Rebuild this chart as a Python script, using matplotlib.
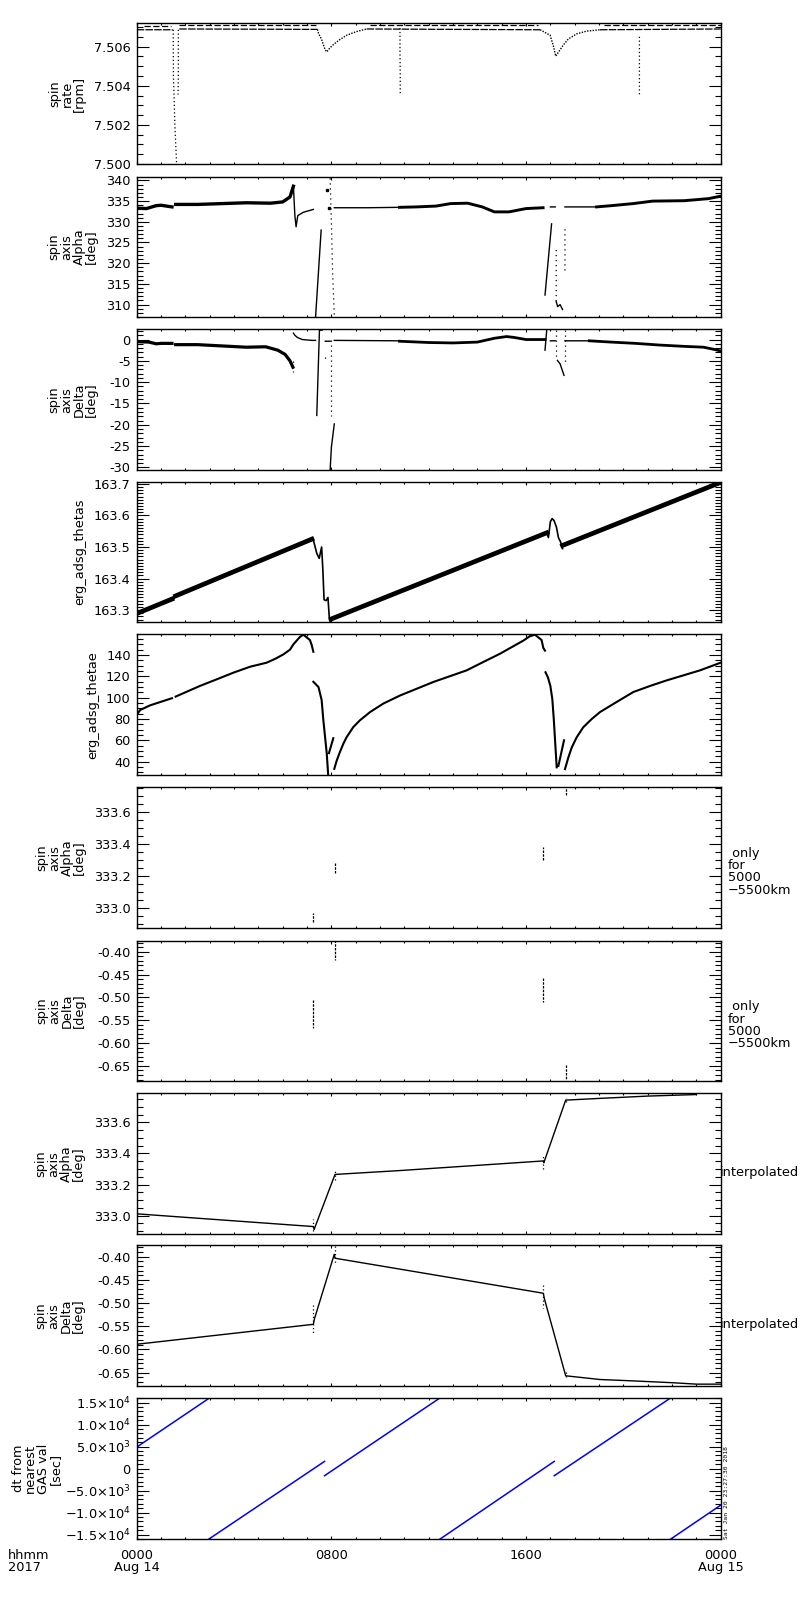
import numpy as np
import matplotlib
matplotlib.use('Agg')
import matplotlib.pyplot as plt
from matplotlib.ticker import MultipleLocator, FormatStrFormatter, FixedLocator, FixedFormatter

nan = np.nan
plt.rcParams['font.family'] = ['DejaVu Sans']
FS = 9.3

# ---------------- data (hours of Aug 14 2017) ----------------
# spin rate [rpm]
rate_t = [0.0, 1.48, nan, 1.75, 7.43, nan, 9.45, 16.58, nan, 19.04, 24.0]
rate_v = [7.50686, 7.50686, nan, 7.50690, 7.50688, nan, 7.50690, 7.50686, nan, 7.50686, 7.50690]
rate_dip_t = [7.43, 7.47, 7.60, 7.74, 7.81, 7.94, 8.08, 8.35, 8.63, 9.04, 9.45, nan,
              16.58, 16.99, 17.12, 17.22, 17.33, 17.53, 17.74, 18.08, 18.49, 19.04]
rate_dip_v = [7.50688, 7.50668, 7.50636, 7.50585, 7.50573, 7.50593, 7.50610, 7.50636, 7.50658, 7.50677,
              7.50690, nan,
              7.50686, 7.50658, 7.50605, 7.50551, 7.50571, 7.50608, 7.50639, 7.50665, 7.50679, 7.50686]
rate_hi_t = [0.3, 1.4, nan, 1.75, 7.35, nan, 9.6, 16.5, nan, 19.2, 24.0]
rate_hi_v = [7.50704, 7.50704, nan, 7.50708, 7.50708, nan, 7.50708, 7.50708, nan, 7.50708, 7.50708]
rate_spike_t = [1.50, 1.51, 1.57, 1.64, nan, 1.71, 1.71, 1.70, nan, 10.82, 10.82, 10.83, 10.83, nan,
                20.66, 20.66, 20.66, 20.66]
rate_spike_v = [7.50686, 7.50449, 7.50195, 7.50000, nan, 7.50686, 7.50450, 7.50355, nan,
                7.50694, 7.50568, 7.50460, 7.50350, nan, 7.50650, 7.50550, 7.50450, 7.50346]

# spin axis Alpha [deg]
alpha_band_t = [0.0, 0.4, 0.8, 1.0, 1.45, nan, 1.6, 2.5, 3.5, 4.5, 5.5, 6.0, 6.3, 6.44]
alpha_band_v = [333.3, 333.2, 333.9, 334.0, 333.6, nan, 334.2, 334.2, 334.4, 334.6, 334.5, 334.8, 336.0, 338.6]
alpha_thin_t = [6.44, 6.5, 6.55, 6.62, 6.85, 7.26, nan, 7.35, 7.58, nan, 8.12, 9.5, 10.8, nan,
                17.6, 18.9]
alpha_thin_v = [338.6, 331.5, 328.8, 331.5, 332.3, 333.0, nan, 306.9, 328.0, nan, 333.4, 333.4, 333.5, nan,
                333.6, 333.6]
alpha_band2_t = [10.8, 11.5, 12.3, 12.9, 13.6, 14.2, 14.7, 15.3, 16.0, 16.7, nan,
                 18.9, 19.5, 20.4, 21.2, 22.5, 23.5, 24.0]
alpha_band2_v = [333.5, 333.6, 333.8, 334.4, 334.5, 333.6, 332.4, 332.4, 333.2, 333.4, nan,
                 333.6, 333.9, 334.4, 335.0, 335.1, 335.6, 336.2]
alpha_misc_t = [16.78, 17.05, nan, 17.0, 17.2, nan, 17.24, 17.3, 17.4, 17.5]
alpha_misc_v = [312.3, 329.5, nan, 333.6, 333.6, nan, 310.7, 309.5, 310.0, 308.8]
alpha_dots_t = [7.95, 8.0, 8.05, 8.12, nan, 17.24, 17.24, nan, 17.6, 17.6, 17.6, 17.6]
alpha_dots_v = [340.5, 330.0, 318.0, 307.5, nan, 323.2, 310.7, nan, 328.2, 325.0, 320.0, 318.0]
alpha_pts_t = [7.8, 7.92]
alpha_pts_v = [337.8, 333.3]

# spin axis Delta [deg]
delta_band_t = [0.0, 0.5, 0.8, 1.0, 1.45, nan, 1.6, 2.5, 3.5, 4.5, 5.3, 5.8, 6.1, 6.3, 6.42]
delta_band_v = [-0.5, -0.6, -1.0, -0.9, -0.9, nan, -1.2, -1.2, -1.5, -1.8, -1.7, -2.5, -3.5, -5.0, -6.5]
delta_thin_t = [6.44, 6.5, 6.6, 6.8, 7.2, 7.35, nan, 7.40, 7.51, 7.62, nan, 7.75, 7.95, nan,
                7.95, 8.0, 8.12, nan, 8.12, 10.8, nan, 16.78, 16.85, nan, 17.0, 17.2, nan,
                17.29, 17.4, 17.56, nan, 17.6, 18.6]
delta_thin_v = [1.5, 1.0, 0.5, 0.0, -0.2, -0.2, nan, -17.8, 2.2, 2.2, nan, -0.4, -0.4, nan,
                -30.6, -25.3, -19.8, nan, -0.2, -0.3, nan, -2.5, 2.2, nan, -0.3, -0.3, nan,
                -4.9, -5.7, -8.4, nan, -0.3, -0.3]
delta_band2_t = [10.8, 12.0, 13.0, 14.0, 14.7, 15.2, 15.5, 16.0, 16.78, nan,
                 18.6, 19.5, 20.5, 21.5, 22.5, 23.3, 23.8, 24.0]
delta_band2_v = [-0.4, -0.7, -0.8, -0.6, 0.3, 0.7, 0.5, 0.0, 0.0, nan,
                 -0.3, -0.6, -0.9, -1.3, -1.6, -1.8, -2.4, -2.7]
delta_dots_t = [6.42, 6.42, nan, 7.97, 7.97, nan, 7.74, 7.74, nan, 17.24, 17.24, nan, 17.6, 17.6]
delta_dots_v = [-5.0, -7.5, nan, 0.0, -18.0, nan, -4.1, -4.9, nan, 2.2, -4.9, nan, 2.2, -6.0]

# erg_adsg_thetas
thetas_band_t = [0.0, 1.45, nan, 1.6, 7.2, nan, 8.0, 16.85, nan, 17.5, 24.0]
thetas_band_v = [163.289, 163.335, nan, 163.345, 163.525, nan, 163.272, 163.545, nan, 163.505, 163.705]
thetas_thin_t = [7.2, 7.26, 7.4, 7.5, 7.6, 7.65, 7.70, 7.78, 7.86, 7.92, 7.96, nan,
                 16.85, 16.92, 17.0, 17.07, 17.15, 17.25, 17.33, 17.42, 17.5]
thetas_thin_v = [163.525, 163.522, 163.48, 163.464, 163.50, 163.428, 163.333, 163.33, 163.34, 163.27, 163.262, nan,
                 163.544, 163.53, 163.58, 163.59, 163.584, 163.563, 163.53, 163.516, 163.495]

# erg_adsg_thetae
thetae_t = [0.0, 0.14, 0.55, 1.45, nan, 1.6, 2.6, 3.29, 3.97, 4.66, 5.34, 5.7, 6.03, 6.3, 6.44, 6.71, 6.85,
            7.12, 7.19, 7.26, nan,
            7.26, 7.47, 7.6, 7.67, 7.74, 7.81, 7.87, nan, 7.9, 8.08, nan,
            8.12, 8.22, 8.35, 8.49, 8.63, 8.9, 9.17, 9.59, 10.13, 10.82, 12.19, 13.56, 14.24, 14.93, 15.89,
            16.15, 16.37, 16.64, 16.71, 16.78, nan,
            16.8, 16.9, 17.0, 17.08, 17.14, 17.19, 17.26, nan, 17.33, 17.56, nan,
            17.6, 17.74, 17.88, 18.08, 18.35, 18.7, 19.04, 19.72, 20.41, 21.1, 21.78, 23.15, 24.0]
thetae_v = [83.7, 88.4, 92.8, 99.5, nan, 101.0, 111.0, 117.2, 123.4, 129.0, 132.8, 136.5, 140.6, 145.0,
            150.0, 157.0, 159.0, 154.0, 149.4, 143.0, nan,
            114.9, 110.0, 97.8, 79.0, 63.3, 47.7, 27.5, nan, 48.0, 62.0, nan,
            33.3, 41.0, 49.0, 56.7, 63.1, 72.4, 78.7, 86.5, 94.4, 102.0, 114.7, 125.6, 133.4, 141.2, 153.5,
            157.5, 159.0, 154.0, 146.6, 144.1, nan,
            123.8, 119.0, 111.0, 98.7, 80.0, 61.0, 34.7, nan, 36.0, 60.0, nan,
            33.0, 44.0, 53.4, 62.8, 72.2, 80.0, 86.5, 95.9, 105.3, 111.0, 116.2, 125.6, 132.8]

# spin axis Alpha / Delta only for 5000-5500 km
alpha_r_t = [7.26, 7.26, nan, 8.15, 8.15, nan, 16.71, 16.71, nan, 17.63, 17.63]
alpha_r_v = [332.91, 332.97, nan, 333.22, 333.28, nan, 333.30, 333.385, nan, 333.71, 333.75]
delta_r_t = [7.26, 7.26, nan, 8.15, 8.15, nan, 16.71, 16.71, nan, 17.63, 17.63]
delta_r_v = [-0.506, -0.568, nan, -0.374, -0.418, nan, -0.458, -0.510, nan, -0.648, -0.681]

# interpolated Alpha / Delta
alpha_i_t = [0.0, 7.26, 7.29, 8.15, 10.82, 16.71, 16.73, 17.63, 19.0, 21.0, 23.0]
alpha_i_v = [333.011, 332.929, 332.91, 333.265, 333.29, 333.352, 333.34, 333.744, 333.755, 333.77, 333.78]
alpha_id_t = [7.26, 7.26, nan, 8.15, 8.15, nan, 16.71, 16.71, nan, 17.63, 17.63]
alpha_id_v = [332.90, 332.98, nan, 333.23, 333.29, nan, 333.30, 333.39, nan, 333.73, 333.76]
delta_i_t = [0.0, 7.26, 7.30, 8.12, 8.15, 10.82, 16.71, 16.75, 17.63, 19.04, 20.41, 22.05, 23.0, 24.0]
delta_i_v = [-0.589, -0.546, -0.535, -0.395, -0.4035, -0.427, -0.479, -0.49, -0.657, -0.665, -0.668,
             -0.672, -0.675, -0.675]
delta_id_t = [7.26, 7.26, nan, 8.15, 8.15, nan, 16.71, 16.71, nan, 17.63, 17.63]
delta_id_v = [-0.504, -0.569, nan, -0.378, -0.414, nan, -0.461, -0.511, nan, -0.648, -0.659]

# dt from nearest GAS val [sec]
dt_t = [0.0, 2.97, nan, 2.97, 7.72, nan, 7.72, 12.44, nan, 12.47, 17.16, nan, 17.16, 21.92, nan, 21.95, 24.0]
dt_v = [4900, 16000, nan, -16000, 1650, nan, -1600, 16000, nan, -16000, 1650, nan, -1600, 16000, nan,
        -16000, -8300]
dt_ticks = [-15000, -10000, -5000, 0, 5000, 10000, 15000]
dt_labels = [r'$\mathregular{-1.5{\times}10^{4}}$', r'$\mathregular{-1.0{\times}10^{4}}$',
             r'$\mathregular{-5.0{\times}10^{3}}$', '0', r'$\mathregular{5.0{\times}10^{3}}$',
             r'$\mathregular{1.0{\times}10^{4}}$', r'$\mathregular{1.5{\times}10^{4}}$']

labels = ['spin\nrate\n[rpm]', 'spin\naxis\nAlpha\n[deg]', 'spin\naxis\nDelta\n[deg]',
          'erg_adsg_thetas', 'erg_adsg_thetae', 'spin\naxis\nAlpha\n[deg]', 'spin\naxis\nDelta\n[deg]',
          'spin\naxis\nAlpha\n[deg]', 'spin\naxis\nDelta\n[deg]', 'dt from\nnearest\nGAS val\n[sec]']
label_x = [67, 73, 73, 80, 93, 61, 61, 60, 60, 37]

ylims = [(7.5000, 7.50719), (306.9, 340.9), (-30.6, 2.4), (163.261, 163.707), (27.5, 159.4),
         (332.875, 333.756), (-0.684, -0.376), (332.881, 333.788), (-0.679, -0.3756), (-16000, 16000)]
majors = [0.002, 5, 5, 0.1, 20, 0.2, 0.05, 0.2, 0.05, None]
minors = [0.0005, 1, 1, 0.01, 5, 0.05, 0.01, 0.05, 0.01, 1000]
fmts = ['%.3f', '%d', '%d', '%.1f', '%d', '%.1f', '%.2f', '%.1f', '%.2f', None]

# ---------------- figure ----------------
W, H = 800, 1600
fig = plt.figure(figsize=(8, 16), dpi=100)
tops = [23.3, 176.7, 329.3, 481.7, 634.3, 787.3, 940.7, 1093.3, 1245.3, 1398.3]
ph = 140.7
left, pw = 136.7, 584.0

axes = []
for i in range(10):
    ax = fig.add_axes([left / W, 1 - (tops[i] + ph) / H, pw / W, ph / H])
    ax.set_xlim(0, 24)
    ax.set_ylim(*ylims[i])
    ax.xaxis.set_major_locator(MultipleLocator(8))
    ax.xaxis.set_minor_locator(MultipleLocator(1))
    ax.set_xticklabels([])
    if majors[i] is not None:
        ax.yaxis.set_major_locator(MultipleLocator(majors[i]))
        ax.yaxis.set_major_formatter(FormatStrFormatter(fmts[i]))
    else:
        ax.yaxis.set_major_locator(FixedLocator(dt_ticks))
        ax.yaxis.set_major_formatter(FixedFormatter(dt_labels))
    ax.yaxis.set_minor_locator(MultipleLocator(minors[i]))
    ax.tick_params(which='both', direction='in', top=True, right=True, labelsize=FS,
                   width=0.8, pad=4.3, colors='black')
    ax.tick_params(axis='y', which='major', length=8.4)
    ax.tick_params(axis='y', which='minor', length=4.2)
    ax.tick_params(axis='x', which='major', length=2.2)
    ax.tick_params(axis='x', which='minor', length=1.2)
    for s in ax.spines.values():
        s.set_linewidth(1.0)
    fig.text(label_x[i] / W, 1 - (tops[i] + ph / 2) / H, labels[i], rotation=90, ha='center',
             va='center', ma='center', fontsize=FS, linespacing=0.95)
    axes.append(ax)

k = 'black'
# spin rate
ax = axes[0]
ax.plot(rate_t, rate_v, color=k, lw=0.9, ls=(0, (6, 1)))
ax.plot(rate_dip_t, rate_dip_v, color=k, lw=1.0, ls=(0, (1, 1)))
ax.plot(rate_hi_t, rate_hi_v, color=k, lw=0.9, ls=(0, (5, 2)))
ax.plot(rate_spike_t, rate_spike_v, color=k, lw=0.9, ls=(0, (1, 2)))

# alpha
ax = axes[1]
ax.plot(alpha_band_t, alpha_band_v, color=k, lw=2.4)
ax.plot(alpha_thin_t, alpha_thin_v, color=k, lw=1.0)
ax.plot(alpha_band2_t, alpha_band2_v, color=k, lw=2.1)
ax.plot(alpha_misc_t, alpha_misc_v, color=k, lw=1.0)
ax.plot(alpha_dots_t, alpha_dots_v, color=k, lw=0.9, ls=(0, (1, 3)))
ax.plot(alpha_pts_t, alpha_pts_v, 's', color=k, ms=1.5)

# delta
ax = axes[2]
ax.plot(delta_band_t, delta_band_v, color=k, lw=2.3)
ax.plot(delta_thin_t, delta_thin_v, color=k, lw=1.0)
ax.plot(delta_band2_t, delta_band2_v, color=k, lw=2.0)
ax.plot(delta_dots_t, delta_dots_v, color=k, lw=0.9, ls=(0, (1, 3)))

# thetas
ax = axes[3]
ax.plot(thetas_band_t, thetas_band_v, color=k, lw=3.4)
ax.plot(thetas_thin_t, thetas_thin_v, color=k, lw=1.2)

# thetae
ax = axes[4]
ax.plot(thetae_t, thetae_v, color=k, lw=1.5)

# only for 5000-5500km
axes[5].plot(alpha_r_t, alpha_r_v, color=k, lw=0.9, ls=(0, (2, 1)))
axes[6].plot(delta_r_t, delta_r_v, color=k, lw=0.9, ls=(0, (2, 1)))
for ax in axes[5:7]:
    ax.text(1.012, 0.40, ' only\nfor\n5000\n\u22125500km', transform=ax.transAxes, ha='left',
            va='center', fontsize=FS, linespacing=0.92)

# interpolated
axes[7].plot(alpha_i_t, alpha_i_v, color=k, lw=1.0)
axes[7].plot(alpha_id_t, alpha_id_v, color=k, lw=0.9, ls=(0, (1, 2)))
axes[8].plot(delta_i_t, delta_i_v, color=k, lw=1.0)
axes[8].plot(delta_id_t, delta_id_v, color=k, lw=0.9, ls=(0, (1, 2)))
for ax in axes[7:9]:
    ax.text(0.998, 0.44, 'interpolated', transform=ax.transAxes, ha='left', va='center', fontsize=FS)

# dt
ax = axes[9]
ax.plot(dt_t, dt_v, color='#0000ff', lw=1.1)
xt = [0, 8, 16, 24]
xl = ['0000\nAug 14', '0800', '1600', '0000\nAug 15']
for x, s in zip(xt, xl):
    ax.text(x, -0.07, s, transform=ax.get_xaxis_transform(), ha='center', va='top', ma='center',
            fontsize=FS, linespacing=0.92)
fig.text(8 / W, 1 - 1549 / H, 'hhmm\n2017', ha='left', va='top', fontsize=FS, linespacing=0.92)
ax.text(1.006, 0.0, 'Sat Jan 20 23:27:30 2018', transform=ax.transAxes, rotation=90, ha='left',
        va='bottom', fontsize=4.6, family='DejaVu Sans Mono')

fig.savefig('out.png', dpi=100)
